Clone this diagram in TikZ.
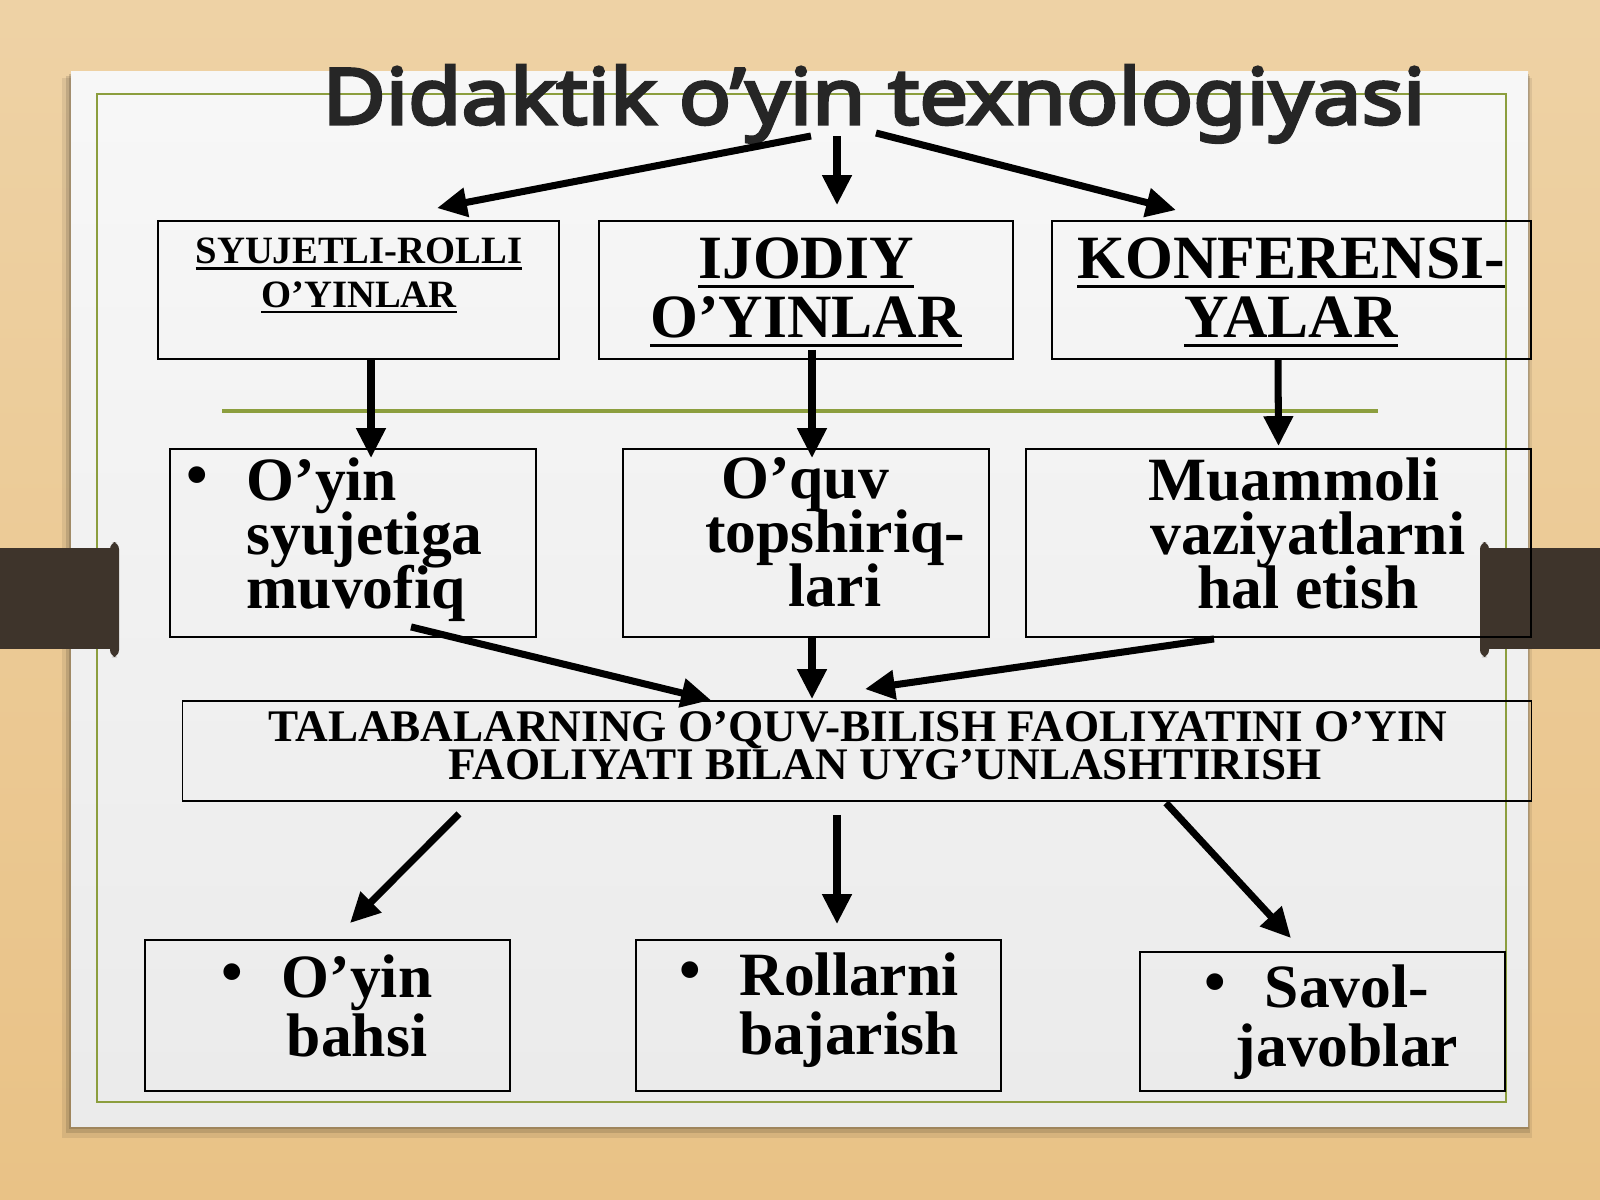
\documentclass[tikz,border=0pt]{standalone}
\usepackage{fontspec}
\setmainfont{Liberation Serif}
\newfontfamily\titlefont{Noto Sans}[FakeBold=4,FakeStretch=1.12]
\usetikzlibrary{arrows.meta,calc}

\definecolor{wood}{RGB}{233,194,134}
\definecolor{woodlight}{RGB}{238,210,165}
\definecolor{olive}{RGB}{140,158,62}
\definecolor{tabbrown}{RGB}{62,52,43}
\definecolor{titlegray}{RGB}{38,38,38}

\newcommand{\ulined}[1]{\setbox0\hbox{#1}\rlap{\rule[-0.16em]{\wd0}{0.06em}}\box0}
\newcommand{\itemdot}{\llap{\raisebox{1.5pt}{•}\hspace{11pt}}}
\newcommand{\tightlines}{\lineskiplimit=-\maxdimen}

\begin{document}
\begin{tikzpicture}[x=0.01cm,y=-0.01cm,
  box/.style={draw=black,line width=0.5pt,inner sep=0pt},
  arr/.style={line width=2pt,-{Triangle[length=8.5pt,width=8pt]}},
  smallhead/.style={font=\fontsize{11}{12.5}\selectfont\bfseries\tightlines,inner sep=0pt,anchor=north,align=center},
  bighead/.style={font=\fontsize{17.5}{16.8}\selectfont\bfseries\tightlines,inner sep=0pt,anchor=north,align=center},
  midtext/.style={font=\fontsize{17.5}{15.3}\selectfont\bfseries\tightlines,inner sep=0pt,anchor=north,align=center},
  lowtext/.style={font=\fontsize{17.5}{16.8}\selectfont\bfseries\tightlines,inner sep=0pt,anchor=north,align=center},
  widetext/.style={font=\fontsize{12.85}{10.8}\selectfont\bfseries\tightlines,inner sep=0pt,anchor=north,align=center}]

% background and slide
\shade[top color=woodlight,bottom color=wood] (0,0) rectangle (1600,1200);
\fill[black,opacity=0.08] (62,78) rectangle (1532,1138);
\fill[black,opacity=0.12] (66,76) rectangle (1530,1133);
\fill[black,opacity=0.15] (69,74) rectangle (1529,1129);
\shade[top color=white!97!black,bottom color=white!92!black] (71,71) rectangle (1528,1126);
\draw[olive,line width=0.8pt] (97,94) rectangle (1506,1102);

% side tabs
\fill[tabbrown] (0,548) rectangle (112,649);
\fill[tabbrown,rounded corners=2pt] (110,542) rectangle (119,657);
\fill[tabbrown] (1486,548) rectangle (1600,649);
\fill[tabbrown,rounded corners=2pt] (1480,542) rectangle (1489,657);

% title
\node[font=\titlefont\fontsize{22}{26}\selectfont,text=titlegray,anchor=base,inner sep=0pt]
  (ttl) at (874,124) {Didaktik o’yin texnologiyasi};
\draw[olive,line width=1pt] (222,411) -- (1378,411);

% first row
\node[box,minimum width=4.01cm,minimum height=1.38cm] (b1) at (358.5,290) {};
\node[box,minimum width=4.14cm,minimum height=1.38cm] (b2) at (806,290) {};
\node[box,minimum width=4.79cm,minimum height=1.38cm] (b3) at (1291.5,290) {};
\node[smallhead] (b1t) at (359,237) {\ulined{SYUJETLI-ROLLI}\\\ulined{O’YINLAR}};
\node[bighead] (b2t) at (806,237) {\ulined{IJODIY}\\\ulined{O’YINLAR}};
\node[bighead] (b3t) at (1291,237) {\ulined{KONFERENSI-}\\\ulined{YALAR}};

% second row
\node[box,minimum width=3.66cm,minimum height=1.88cm] (c1) at (353,543) {};
\node[box,minimum width=3.66cm,minimum height=1.88cm] (c2) at (806,543) {};
\node[box,minimum width=5.05cm,minimum height=1.88cm] (c3) at (1278.5,543) {};
\node[midtext,align=left,anchor=north west] (c1t) at (246,457) {\itemdot O’yin\\syujetiga\\muvofiq};
\node[midtext] (c2t) at (835,457) {O’quv\hspace*{17pt}\\topshiriq-\\lari};
\node[midtext] (c3t) at (1308,457) {Muammoli\hspace*{8pt}\\vaziyatlarni\\hal etish};

% third row
\node[box,minimum width=13.48cm,minimum height=1cm] (d) at (857,751) {};
\node[widetext] (dt) at (858,711) {TALABALARNING O’QUV-BILISH FAOLIYATINI O’YIN\\\hspace*{15.4pt}FAOLIYATI BILAN UYG’UNLASHTIRISH};

% fourth row
\node[box,minimum width=3.65cm,minimum height=1.51cm] (e1) at (327.5,1015.5) {};
\node[box,minimum width=3.65cm,minimum height=1.51cm] (e2) at (818.5,1015.5) {};
\node[box,minimum width=3.65cm,minimum height=1.39cm] (e3) at (1322.5,1021.5) {};
\node[lowtext] (e1t) at (357,954) {\itemdot O’yin\\bahsi};
\node[lowtext,align=left,anchor=north west] (e2t) at (739,952) {\itemdot Rollarni\\bajarish};
\node[lowtext] (e3t) at (1347,964) {\itemdot Savol-\\javoblar};

% arrows
\draw[arr] ($(ttl.base)+(-63,12)$) -- ($(b1.north)+(78.5,-12)$);
\draw[arr] ($(ttl.base)+(-37,12)$) -- ($(b2.north)+(31,-15)$);
\draw[arr] ($(ttl.base)+(2,9)$) -- ($(b3.north)+(-115.5,-10)$);
\draw[arr] ($(b1.south)+(12.5,0)$) -- ($(c1.north)+(18,10)$);
\draw[arr] ($(b2.south)+(6,-10)$) -- ($(c2.north)+(6,10)$);
\draw[arr] ($(b3.south)+(-13.5,0)$) -- ($(c3.north)+(0,-2)$);
\draw[arr] ($(c1.south)+(58,-11)$) -- ($(d.north)+(-146,0)$);
\draw[arr] ($(c2.south)+(6,0)$) -- ($(d.north)+(-45,-1)$);
\draw[arr] ($(c3.south)+(-64.5,1)$) -- ($(d.north)+(8,-11)$);
\draw[arr] ($(d.south)+(-398,12)$) -- ($(e1.north)+(22.5,-16)$);
\draw[arr] ($(d.south)+(-20,13)$) -- ($(e2.north)+(18.5,-15)$);
\draw[arr] ($(d.south)+(309,1)$) -- ($(e3.north)+(-31.5,-13)$);
\end{tikzpicture}
\end{document}
